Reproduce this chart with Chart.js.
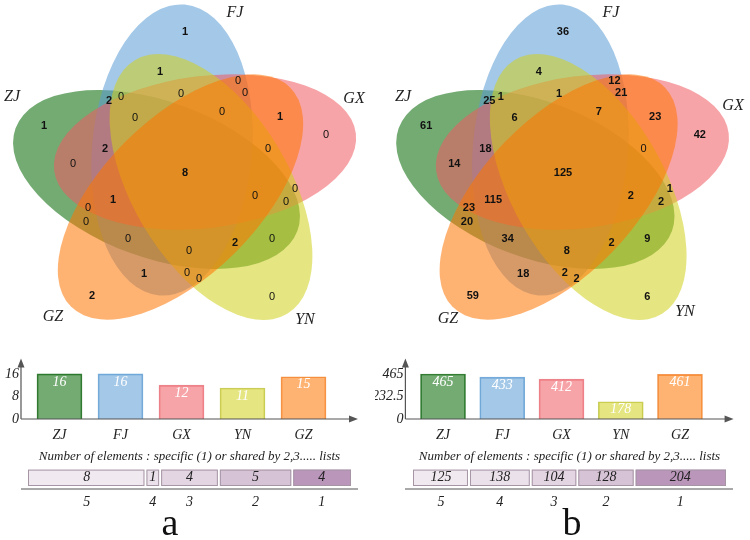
<!DOCTYPE html>
<html>
<head>
<meta charset="utf-8">
<script src="https://cdn.jsdelivr.net/npm/chart.js@4.4.0/dist/chart.umd.min.js"></script>
<style>
  body { margin: 0; background: #fff; }
  #page { position: relative; width: 750px; height: 540px; overflow: hidden; background: #fff; }
  #page canvas { position: absolute; }
  .tag { position: absolute; top: 503px; width: 60px; text-align: center; font-family: 'Liberation Serif', serif; font-size: 38px; line-height: 38px; color: #111; }
</style>
</head>
<body>
<div id="page">
  <canvas id="vennA" width="375" height="335" style="left:0;top:0"></canvas>
  <canvas id="vennB" width="375" height="335" style="left:375px;top:0"></canvas>
  <canvas id="barA" width="375" height="110" style="left:0;top:340px"></canvas>
  <canvas id="barB" width="375" height="110" style="left:375px;top:340px"></canvas>
  <canvas id="stackA" width="375" height="70" style="left:0;top:448px"></canvas>
  <canvas id="stackB" width="375" height="70" style="left:375px;top:448px"></canvas>
  <div class="tag" style="left:140px">a</div>
  <div class="tag" style="left:542px">b</div>
</div>
<script>
// data
const setNames = ['ZJ', 'FJ', 'GX', 'YN', 'GZ'];
const totalsA = [16, 16, 12, 11, 15];
const totalsB = [465, 433, 412, 178, 461];
const yTicksA = [0, 8, 16];
const yTicksB = [0, 232.5, 465];
const sharedBy = ['5', '4', '3', '2', '1'];
const sharedA = [8, 1, 4, 5, 4];
const sharedB = [125, 138, 104, 128, 204];
// counts for every venn region, same order as regionX / regionY
const regionsA = [1, 1, 0, 0, 0, 0, 1, 0, 1, 2, 0, 0, 2, 0, 8, 0, 0, 0, 0, 1, 0, 0, 0, 0, 2, 0, 1, 0, 0, 2, 0];
const regionsB = [36, 4, 12, 21, 1, 7, 23, 42, 61, 25, 1, 6, 18, 14, 125, 0, 2, 1, 2, 115, 23, 20, 34, 8, 2, 9, 18, 2, 2, 59, 6];

// layout: where each region label sits (venn units)
const regionX = [185, 160, 238, 245, 181, 222, 280, 326, 44, 109, 121, 135, 105, 73, 185, 268, 255, 295, 286, 113, 88, 86, 128, 189, 235, 272, 144, 187, 199, 92, 272];
const regionY = [32, 72, 81, 93, 94, 112, 117, 135, 126, 101, 97, 118, 149, 164, 173, 149, 196, 189, 202, 200, 208, 222, 239, 251, 243, 239, 274, 273, 279, 296, 297];

// ellipse geometry [cx, cy, a, b, rotation], same order as setNames
const ellipses = [
  [156.5, 179.5, 150, 78, 20],
  [172, 150, 146, 80, -85],
  [205, 152, 152, 76, -7],
  [211, 187, 148, 78, 59],
  [180.5, 197, 155, 78, 135]
];

const serif = "'Liberation Serif', 'DejaVu Serif', serif";
const sans = "'Liberation Sans', Arial, sans-serif";
const vennFill = ['rgba(0,102,0,0.55)', 'rgba(90,155,212,0.55)', 'rgba(241,90,96,0.55)', 'rgba(207,207,27,0.55)', 'rgba(255,117,0,0.55)'];
const barEdge = ['#3d7f3d', '#7aaedb', '#ec8a93', '#c9cc63', '#f29a55'];
const stackFill = ['#f1e9f0', '#ebe1ea', '#e3d5e2', '#d6c3d5', '#bb96bb'];

const panels = [
  {
    id: 'A', totals: totalsA, ticks: yTicksA, yMax: 21.5, shared: sharedA, regions: regionsA,
    vennX: [0, 375],
    names: [[12, 97], [235, 13], [354, 99], [305, 320], [53, 317]],
    barLeft: 29, barRight: 334, stackLeft: 28, lineLeft: 21
  },
  {
    id: 'B', totals: totalsB, ticks: yTicksB, yMax: 625.6, shared: sharedB, regions: regionsB,
    vennX: [-8.8, 377.8],
    names: [[28, 97], [236, 13], [358, 106], [310, 312], [73, 319]],
    barLeft: 38.4, barRight: 334.6, stackLeft: 38, lineLeft: 30
  }
];

function vennPlugin(p) {
  return {
    id: 'venn' + p.id,
    beforeDatasetsDraw(chart) {
      const { ctx, scales: { x, y } } = chart;
      const sx = (x.getPixelForValue(100) - x.getPixelForValue(0)) / 100;
      const sy = (y.getPixelForValue(100) - y.getPixelForValue(0)) / 100;
      ctx.save();
      ctx.translate(x.getPixelForValue(0), y.getPixelForValue(0));
      ctx.scale(sx, sy);
      ellipses.forEach((e, i) => {
        ctx.beginPath();
        ctx.ellipse(e[0], e[1], e[2], e[3], e[4] * Math.PI / 180, 0, Math.PI * 2);
        ctx.fillStyle = vennFill[i];
        ctx.fill();
      });
      ctx.restore();
    },
    afterDatasetsDraw(chart) {
      const ctx = chart.ctx;
      const pts = chart.getDatasetMeta(0).data;
      ctx.save();
      ctx.textAlign = 'center';
      ctx.textBaseline = 'middle';
      ctx.fillStyle = '#111';
      pts.forEach((pt, i) => {
        const v = p.regions[i];
        ctx.font = (v > 0 ? 'bold ' : '') + '11px ' + sans;
        ctx.fillText(String(v), pt.x, pt.y);
      });
      // set names round the outside
      ctx.font = 'italic 16px ' + serif;
      ctx.fillStyle = '#222';
      p.names.forEach((n, i) => ctx.fillText(setNames[i], n[0], n[1]));
      ctx.restore();
    }
  };
}

// axis lines with arrow heads, like the original
const axisArrows = {
  id: 'axisArrows',
  afterDatasetsDraw(chart) {
    const { ctx, chartArea, scales } = chart;
    const x0 = chartArea.left - 8;
    const y0 = scales.y.getPixelForValue(0);
    const top = chartArea.top;
    const right = chartArea.right + 24;
    ctx.save();
    ctx.strokeStyle = '#555';
    ctx.fillStyle = '#555';
    ctx.lineWidth = 1.2;
    ctx.beginPath();
    ctx.moveTo(x0, y0);
    ctx.lineTo(x0, top + 6);
    ctx.moveTo(x0, y0);
    ctx.lineTo(right - 6, y0);
    ctx.stroke();
    ctx.beginPath();
    ctx.moveTo(x0, top);
    ctx.lineTo(x0 - 3.5, top + 9);
    ctx.lineTo(x0 + 3.5, top + 9);
    ctx.closePath();
    ctx.moveTo(right, y0);
    ctx.lineTo(right - 9, y0 - 3.5);
    ctx.lineTo(right - 9, y0 + 3.5);
    ctx.closePath();
    ctx.fill();
    ctx.restore();
  }
};

const barValues = {
  id: 'barValues',
  afterDatasetsDraw(chart) {
    const ctx = chart.ctx;
    const vals = chart.data.datasets[0].data;
    ctx.save();
    ctx.font = 'italic 14px ' + serif;
    ctx.fillStyle = '#fff';
    ctx.textAlign = 'center';
    ctx.textBaseline = 'middle';
    chart.getDatasetMeta(0).data.forEach((bar, i) => {
      ctx.fillText(String(vals[i]), bar.x, bar.y + 8);
    });
    ctx.restore();
  }
};

function stackPlugin(p) {
  return {
    id: 'stack' + p.id,
    afterDatasetsDraw(chart) {
      const { ctx, chartArea } = chart;
      const n = chart.data.datasets.length;
      ctx.save();
      chart.data.datasets.forEach((ds, i) => {
        const el = chart.getDatasetMeta(i).data[0];
        const l = Math.min(el.x, el.base), r = Math.max(el.x, el.base);
        const t = el.y - el.height / 2, b = el.y + el.height / 2;
        const segL = i === 0 ? l : l + 1;
        const segR = i === n - 1 ? r : r - 1;
        ctx.fillStyle = '#fff';
        if (i < n - 1) ctx.fillRect(r - 1, t - 1, 2, b - t + 2);
        ctx.strokeStyle = '#a595a5';
        ctx.lineWidth = 1;
        ctx.strokeRect(segL + 0.5, t + 0.5, segR - segL - 1, b - t - 1);
        const cx = (l + r) / 2;
        ctx.fillStyle = '#222';
        ctx.font = 'italic 14px ' + serif;
        ctx.textAlign = 'center';
        ctx.textBaseline = 'middle';
        ctx.fillText(String(ds.data[0]), cx, el.y);
        ctx.fillText(ds.label, cx, chartArea.bottom + 16);
      });
      ctx.strokeStyle = '#555';
      ctx.lineWidth = 1.2;
      ctx.beginPath();
      ctx.moveTo(p.lineLeft, chartArea.bottom + 3);
      ctx.lineTo(358, chartArea.bottom + 3);
      ctx.stroke();
      ctx.restore();
    }
  };
}

panels.forEach(p => {
  new Chart(document.getElementById('venn' + p.id), {
    type: 'scatter',
    data: {
      datasets: [{
        data: regionX.map((x, i) => ({ x: x, y: regionY[i] })),
        pointRadius: 0
      }]
    },
    options: {
      responsive: false,
      animation: false,
      layout: { padding: 0 },
      plugins: { legend: { display: false }, tooltip: { enabled: false } },
      scales: {
        x: { type: 'linear', min: p.vennX[0], max: p.vennX[1], display: false },
        y: { type: 'linear', min: 0, max: 335, reverse: true, display: false }
      }
    },
    plugins: [vennPlugin(p)]
  });

  new Chart(document.getElementById('bar' + p.id), {
    type: 'bar',
    data: {
      labels: setNames,
      datasets: [{
        data: p.totals,
        backgroundColor: vennFill,
        borderColor: barEdge,
        borderWidth: 1,
        barThickness: 45
      }]
    },
    options: {
      responsive: false,
      animation: false,
      layout: { padding: { top: 5, right: 375 - p.barRight, left: 0, bottom: 0 } },
      plugins: { legend: { display: false }, tooltip: { enabled: false } },
      scales: {
        x: {
          grid: { display: false, drawTicks: false },
          border: { display: false },
          ticks: { font: { family: serif, style: 'italic', size: 14 }, color: '#222', padding: 8 },
          afterFit: s => { s.height = 31; }
        },
        y: {
          min: 0,
          max: p.yMax,
          grid: { display: false, drawTicks: false },
          border: { display: false },
          ticks: { font: { family: serif, style: 'italic', size: 14 }, color: '#222', padding: 10 },
          afterBuildTicks: s => { s.ticks = p.ticks.map(v => ({ value: v })); },
          afterFit: s => { s.width = p.barLeft; }
        }
      }
    },
    plugins: [axisArrows, barValues]
  });

  const total = p.shared.reduce((a, b) => a + b, 0);
  new Chart(document.getElementById('stack' + p.id), {
    type: 'bar',
    data: {
      labels: [''],
      datasets: p.shared.map((v, i) => ({
        label: sharedBy[i],
        data: [v],
        backgroundColor: stackFill[i],
        borderWidth: 0,
        categoryPercentage: 1,
        barPercentage: 1
      }))
    },
    options: {
      indexAxis: 'y',
      responsive: false,
      animation: false,
      layout: { padding: { left: p.stackLeft, right: 24, top: 0, bottom: 32 } },
      plugins: {
        legend: { display: false },
        tooltip: { enabled: false },
        title: {
          display: true,
          text: 'Number of elements : specific (1) or shared by 2,3..... lists',
          font: { family: serif, style: 'italic', size: 13, weight: 'normal' },
          color: '#222',
          padding: { top: 1, bottom: 5 }
        }
      },
      scales: {
        x: { stacked: true, display: false, min: 0, max: total },
        y: { stacked: true, display: false }
      }
    },
    plugins: [stackPlugin(p)]
  });
});
</script>
</body>
</html>
